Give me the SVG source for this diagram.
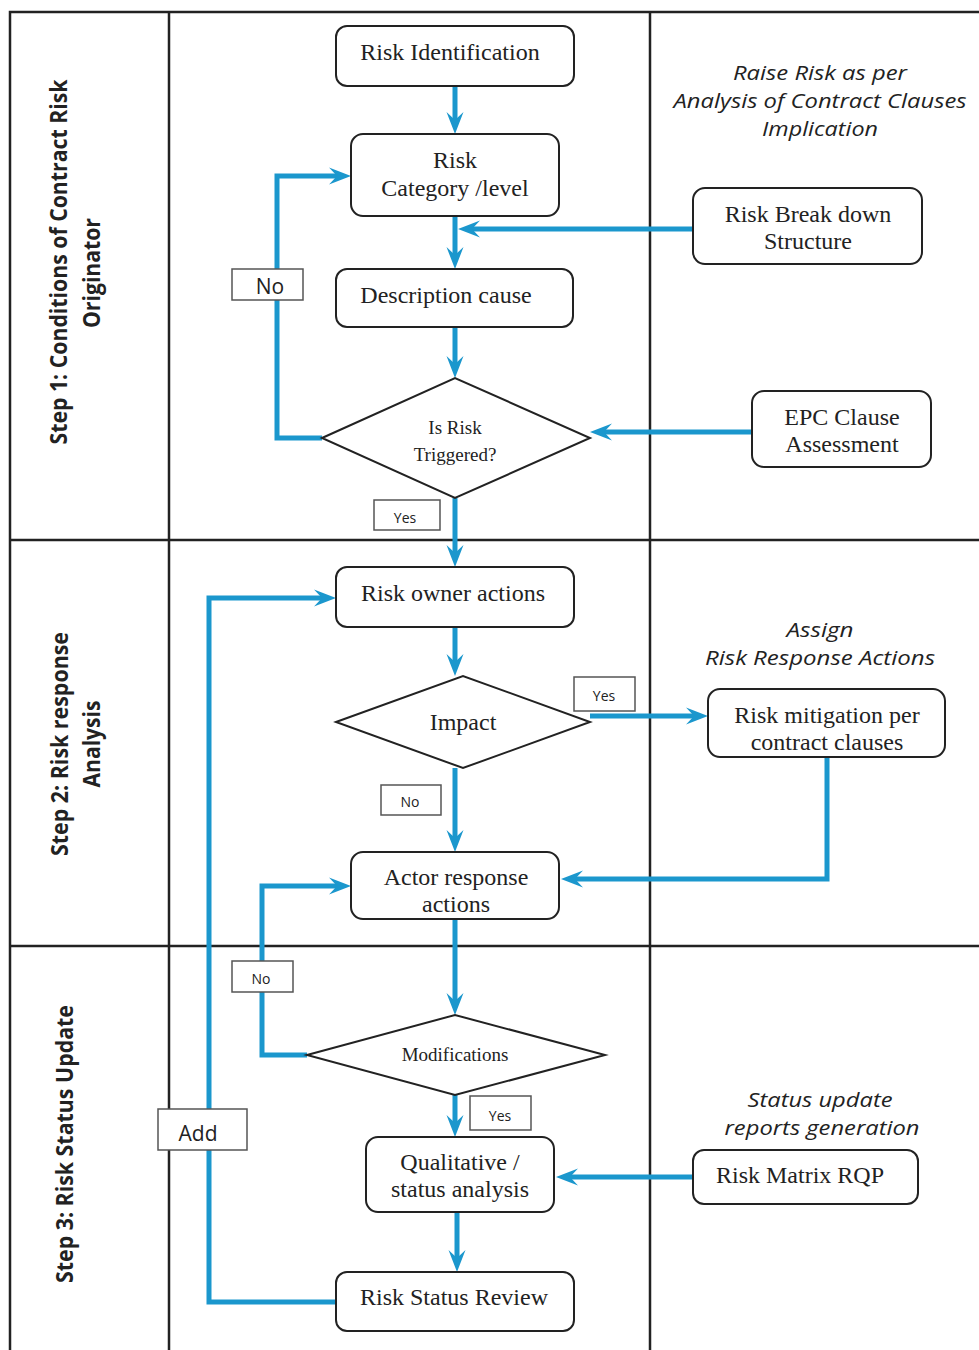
<svg xmlns="http://www.w3.org/2000/svg" width="979" height="1350" viewBox="0 0 979 1350">
  <style>
    .lane { stroke: #222; stroke-width: 2.5; fill: none; }
    .box { fill: #fff; stroke: #222; stroke-width: 2; }
    .tag { fill: #fff; stroke: #555; stroke-width: 1.5; }
    .flow { fill: none; stroke: #1b97cd; stroke-width: 5; stroke-linejoin: miter; marker-end: url(#arrow); }
    .serif { font-family: "Liberation Serif", "Times New Roman", serif; fill: #222; text-anchor: middle; }
    .note { font-family: "Open Sans", "Liberation Sans", sans-serif; font-style: italic; font-size: 20px; fill: #222; text-anchor: middle; }
    .small { font-family: "Open Sans", "Liberation Sans", sans-serif; font-size: 14px; fill: #222; text-anchor: middle; }
    .mid { font-family: "Open Sans", "Liberation Sans", sans-serif; font-size: 21px; fill: #222; text-anchor: middle; }
    .step { font-family: "Open Sans", "Liberation Sans", sans-serif; font-weight: bold; font-size: 23px; fill: #222; text-anchor: middle; }
  </style>
  <defs>
    <marker id="arrow" viewBox="0 0 26 20" refX="16" refY="10" markerWidth="26" markerHeight="20" markerUnits="userSpaceOnUse" orient="auto">
      <path d="M24,10 L2,1.5 L10,10 L2,18.5 z" fill="#1b97cd"/>
    </marker>
  </defs>

  <rect width="979" height="1350" fill="#fff"/>

  <!-- swimlane grid -->
  <g id="lanes">
    <path class="lane" d="M10,1350 V12 H979"/>
    <path class="lane" d="M169,12 V1350"/>
    <path class="lane" d="M650,12 V1350"/>
    <path class="lane" d="M10,540 H979"/>
    <path class="lane" d="M10,946 H979"/>
    <text class="step" transform="translate(67,262) rotate(-90)" textLength="365" lengthAdjust="spacingAndGlyphs">Step 1: Conditions of Contract Risk</text>
    <text class="step" transform="translate(100,273) rotate(-90)" textLength="110" lengthAdjust="spacingAndGlyphs">Originator</text>
    <text class="step" transform="translate(68,744) rotate(-90)" textLength="224" lengthAdjust="spacingAndGlyphs">Step 2: Risk response</text>
    <text class="step" transform="translate(100,744) rotate(-90)" textLength="87" lengthAdjust="spacingAndGlyphs">Analysis</text>
    <text class="step" transform="translate(73,1144) rotate(-90)" textLength="278" lengthAdjust="spacingAndGlyphs">Step 3: Risk Status Update</text>
  </g>

  <!-- lane notes -->
  <g id="notes">
    <text class="note" x="820" y="80" textLength="174" lengthAdjust="spacingAndGlyphs">Raise Risk as per</text>
    <text class="note" x="820" y="108" textLength="293" lengthAdjust="spacingAndGlyphs">Analysis of Contract Clauses</text>
    <text class="note" x="820" y="136" textLength="116" lengthAdjust="spacingAndGlyphs">Implication</text>
    <text class="note" x="820" y="637" textLength="67" lengthAdjust="spacingAndGlyphs">Assign</text>
    <text class="note" x="820" y="665" textLength="230" lengthAdjust="spacingAndGlyphs">Risk Response Actions</text>
    <text class="note" x="820" y="1107" textLength="145" lengthAdjust="spacingAndGlyphs">Status update</text>
    <text class="note" x="822" y="1135" textLength="195" lengthAdjust="spacingAndGlyphs">reports generation</text>
  </g>

  <!-- connectors -->
  <g id="connectors">
    <path class="flow" d="M455,86 V126"/>
    <path class="flow" d="M455,216 V261"/>
    <path class="flow" d="M693,229 H466"/>
    <path class="flow" d="M455,327 V370"/>
    <path class="flow" d="M322,438 H277 V176 H343"/>
    <path class="flow" d="M752,432 H598"/>
    <path class="flow" d="M455,498 V559"/>
    <path class="flow" d="M455,627 V668"/>
    <path class="flow" d="M590,716 H700"/>
    <path class="flow" d="M455,768 V844"/>
    <path class="flow" d="M827,757 V879 H569"/>
    <path class="flow" d="M455,919 V1007"/>
    <path class="flow" d="M307,1055 H262 V886 H343"/>
    <path class="flow" d="M455,1095 V1129"/>
    <path class="flow" d="M693,1177 H564"/>
    <path class="flow" d="M457,1212 V1264"/>
    <path class="flow" d="M336,1302 H209 V598 H328"/>
  </g>

  <!-- step 1 nodes -->
  <g id="risk-identification">
    <rect class="box" x="336" y="26" width="238" height="60" rx="11"/>
    <text class="serif" x="450" y="60" font-size="24">Risk Identification</text>
  </g>
  <g id="risk-category">
    <rect class="box" x="351" y="134" width="208" height="82" rx="12"/>
    <text class="serif" x="455" y="168" font-size="24">Risk</text>
    <text class="serif" x="455" y="196" font-size="24">Category /level</text>
  </g>
  <g id="description-cause">
    <rect class="box" x="336" y="269" width="237" height="58" rx="11"/>
    <text class="serif" x="446" y="303" font-size="24">Description cause</text>
  </g>
  <g id="is-risk-triggered">
    <polygon class="box" points="322,438 455,378 590,438 455,498"/>
    <text class="serif" x="455" y="434" font-size="19">Is Risk</text>
    <text class="serif" x="455" y="461" font-size="19">Triggered?</text>
  </g>
  <g id="risk-breakdown-structure">
    <rect class="box" x="693" y="188" width="229" height="76" rx="12"/>
    <text class="serif" x="808" y="222" font-size="24">Risk Break down</text>
    <text class="serif" x="808" y="249" font-size="24">Structure</text>
  </g>
  <g id="epc-clause-assessment">
    <rect class="box" x="752" y="391" width="179" height="76" rx="12"/>
    <text class="serif" x="842" y="425" font-size="24">EPC Clause</text>
    <text class="serif" x="842" y="452" font-size="24">Assessment</text>
  </g>

  <!-- step 2 nodes -->
  <g id="risk-owner-actions">
    <rect class="box" x="336" y="567" width="238" height="60" rx="11"/>
    <text class="serif" x="453" y="601" font-size="24">Risk owner actions</text>
  </g>
  <g id="impact">
    <polygon class="box" points="336,722 463,676 590,722 463,768"/>
    <text class="serif" x="463" y="730" font-size="24">Impact</text>
  </g>
  <g id="risk-mitigation">
    <rect class="box" x="708" y="689" width="237" height="68" rx="12"/>
    <text class="serif" x="827" y="723" font-size="24">Risk mitigation per</text>
    <text class="serif" x="827" y="750" font-size="24">contract clauses</text>
  </g>
  <g id="actor-response-actions">
    <rect class="box" x="351" y="852" width="208" height="67" rx="12"/>
    <text class="serif" x="456" y="885" font-size="24">Actor response</text>
    <text class="serif" x="456" y="912" font-size="24">actions</text>
  </g>

  <!-- step 3 nodes -->
  <g id="modifications">
    <polygon class="box" points="307,1055 455,1015 605,1055 455,1095"/>
    <text class="serif" x="455" y="1061" font-size="19">Modifications</text>
  </g>
  <g id="qualitative-status-analysis">
    <rect class="box" x="366" y="1137" width="188" height="75" rx="12"/>
    <text class="serif" x="460" y="1170" font-size="24">Qualitative /</text>
    <text class="serif" x="460" y="1197" font-size="24">status analysis</text>
  </g>
  <g id="risk-matrix-rqp">
    <rect class="box" x="693" y="1150" width="225" height="54" rx="11"/>
    <text class="serif" x="800" y="1183" font-size="24">Risk Matrix RQP</text>
  </g>
  <g id="risk-status-review">
    <rect class="box" x="336" y="1272" width="238" height="59" rx="11"/>
    <text class="serif" x="454" y="1305" font-size="24">Risk Status Review</text>
  </g>

  <!-- branch labels -->
  <g id="label-no-1">
    <rect class="tag" x="232" y="269" width="71" height="31"/>
    <text class="mid" x="270" y="294">No</text>
  </g>
  <g id="label-yes-1">
    <rect class="tag" x="374" y="500" width="66" height="30"/>
    <text class="small" x="405" y="523">Yes</text>
  </g>
  <g id="label-yes-2">
    <rect class="tag" x="574" y="677" width="61" height="34"/>
    <text class="small" x="604" y="701">Yes</text>
  </g>
  <g id="label-no-2">
    <rect class="tag" x="381" y="785" width="60" height="30"/>
    <text class="small" x="410" y="807">No</text>
  </g>
  <g id="label-no-3">
    <rect class="tag" x="232" y="961" width="61" height="31"/>
    <text class="small" x="261" y="984">No</text>
  </g>
  <g id="label-yes-3">
    <rect class="tag" x="470" y="1096" width="61" height="34"/>
    <text class="small" x="500" y="1121">Yes</text>
  </g>
  <g id="label-add">
    <rect class="tag" x="158" y="1109" width="89" height="41"/>
    <text class="mid" x="198" y="1141" font-size="22">Add</text>
  </g>
</svg>
